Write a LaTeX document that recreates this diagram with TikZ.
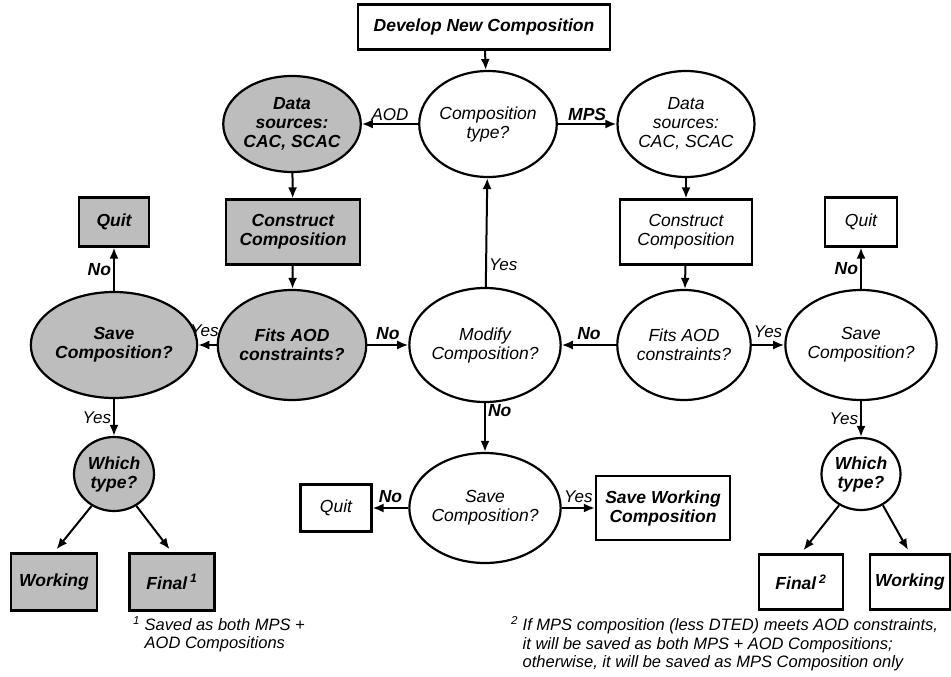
\documentclass[tikz,border=0pt]{standalone}
\usepackage{fontspec}
\setmainfont{Liberation Sans}
\usetikzlibrary{shapes.geometric,arrows.meta}
\begin{document}
\begin{tikzpicture}[x=1pt,y=-1pt,
  font=\fontsize{17.5}{19}\selectfont\itshape,
  every node/.style={align=center},
  ell/.style={ellipse, draw, line width=2.2pt, inner sep=0pt},
  boxn/.style={rectangle, draw, line width=2.2pt, inner sep=2pt},
  shd/.style={fill=gray!52, font=\fontsize{17.5}{19}\selectfont\bfseries\itshape},
  bld/.style={font=\fontsize{17.5}{19}\selectfont\bfseries\itshape},
  arr/.style={-{Latex[length=11pt,width=9pt]}, line width=2pt},
  lbl/.style={font=\fontsize{17}{19}\selectfont\itshape, inner sep=2pt},
  fn/.style={font=\fontsize{16.5}{18.5}\selectfont\itshape, align=left, inner sep=0pt}]
\useasboundingbox (0,0) rectangle (951,677);

% top
\node[boxn, minimum width=252pt, minimum height=45pt, bld] (dev) at (484,27) {Develop New Composition};
\node[ell, minimum width=136pt, minimum height=106pt] (ctype) at (488,124) {Composition\\type?};

% left (AOD) branch
\node[ell, shd, minimum width=134pt, minimum height=96pt] (dsL) at (292,124) {Data\\sources:\\CAC, SCAC};
\node[boxn, shd, minimum width=134pt, minimum height=65pt] (conL) at (293,232) {Construct\\Composition};
\node[ell, shd, minimum width=116pt, minimum height=110pt] (fitL) at (292,345) {Fits AOD\\constraints?};
\node[ell, shd, minimum width=138pt, minimum height=106pt] (saveL) at (114,345) {Save\\Composition?};
\node[boxn, shd, minimum width=70pt, minimum height=49pt] (quitL) at (114,222) {Quit};
\node[ell, shd, minimum width=80pt, minimum height=74pt] (whichL) at (114,474) {Which\\type?};
\node[boxn, shd, minimum width=86pt, minimum height=57pt] (workL) at (54,582) {Working};
\node[boxn, shd, minimum width=85pt, minimum height=57pt] (finL) at (172,582) {Final\,\textsuperscript{1}};

% right (MPS) branch
\node[ell, minimum width=137pt, minimum height=106pt] (dsR) at (686,124) {Data\\sources:\\CAC, SCAC};
\node[boxn, minimum width=132pt, minimum height=65pt] (conR) at (686,232) {Construct\\Composition};
\node[ell, minimum width=117pt, minimum height=110pt] (fitR) at (684,345) {Fits AOD\\constraints?};
\node[ell, minimum width=134pt, minimum height=110pt] (saveR) at (861,345) {Save\\Composition?};
\node[boxn, minimum width=72pt, minimum height=49pt] (quitR) at (861,222) {Quit};
\node[ell, bld, minimum width=79pt, minimum height=72pt] (whichR) at (861,474) {Which\\type?};
\node[boxn, bld, minimum width=84pt, minimum height=55pt] (finR) at (801,582) {Final\,\textsuperscript{2}};
\node[boxn, bld, minimum width=80pt, minimum height=55pt] (workR) at (910,582) {Working};

% centre
\node[ell, minimum width=138pt, minimum height=114pt] (mod) at (485,345) {Modify\\Composition?};
\node[ell, minimum width=140pt, minimum height=110pt] (saveC) at (485,508) {Save\\Composition?};
\node[boxn, minimum width=71pt, minimum height=47pt] (quitC) at (336,508) {Quit};
\node[boxn, bld, minimum width=134pt, minimum height=64pt] (saveW) at (663,508) {Save Working\\Composition};

% connectors
\draw[arr] (dev) -- (ctype);
\draw[arr] (ctype) -- node[lbl, above] {AOD} (dsL);
\draw[arr] (ctype) -- node[lbl, above, bld] {MPS} (dsR);
\draw[arr] (dsL) -- (conL);
\draw[arr] (conL) -- (fitL);
\draw[arr] (fitL) -- node[lbl, above=5pt, xshift=-3pt] {Yes} (saveL);
\draw[arr] (fitL) -- node[lbl, above=2pt, bld] {No} (mod);
\draw[arr] (saveL) -- node[lbl, left, bld] {No} (quitL);
\draw[arr] (saveL) -- node[lbl, left] {Yes} (whichL);
\draw[arr, shorten >=4pt] (whichL.235) -- (workL.north);
\draw[arr, shorten >=4pt] (whichL.305) -- (finL.north);

\draw[arr] (dsR) -- (conR);
\draw[arr] (conR) -- (fitR);
\draw[arr] (fitR) -- node[lbl, above=2pt, bld] {No} (mod);
\draw[arr] (fitR) -- node[lbl, above=4pt] {Yes} (saveR);
\draw[arr] (saveR) -- node[lbl, left, bld] {No} (quitR);
\draw[arr] (saveR) -- node[lbl, left] {Yes} (whichR);
\draw[arr, shorten >=4pt] (whichR.235) -- (finR.north);
\draw[arr, shorten >=4pt] (whichR.305) -- (workR.north);

\draw[arr] (mod) -- node[lbl, right, pos=0.2] {Yes} (ctype);
\draw[arr] (mod) -- node[lbl, right, bld, pos=0.15] {No} (saveC);
\draw[arr] (saveC) -- node[lbl, above=2pt, bld] {No} (quitC);
\draw[arr] (saveC) -- node[lbl, above=2pt] {Yes} (saveW);

% footnotes
\node[fn, anchor=north west] (fn1) at (133,616) {\textsuperscript{1} Saved as both MPS +\\\phantom{\textsuperscript{1} }AOD Compositions};
\node[fn, anchor=north west] (fn2) at (511,616) {\textsuperscript{2} If MPS composition (less DTED) meets AOD constraints,\\\phantom{\textsuperscript{2} }it will be saved as both MPS + AOD Compositions;\\\phantom{\textsuperscript{2} }otherwise, it will be saved as MPS Composition only};
\end{tikzpicture}
\end{document}
